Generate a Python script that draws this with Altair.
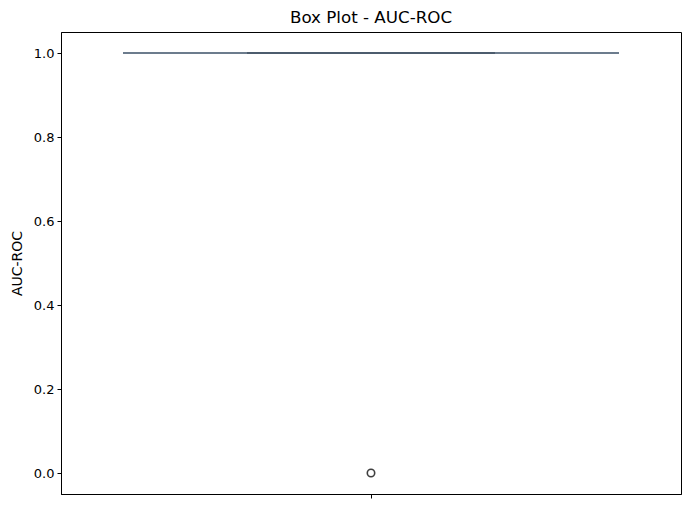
import altair as alt
import pandas as pd

metric_name = "AUC-ROC"
auc_roc_values = [1.0, 1.0, 1.0, 1.0, 1.0, 1.0, 1.0, 1.0, 1.0, 1.0, 0.0]
y_ticks = [0.0, 0.2, 0.4, 0.6, 0.8, 1.0]

df = pd.DataFrame({"group": ["all"] * len(auc_roc_values), "value": auc_roc_values})

line_color = "#555555"

chart = alt.Chart(df).mark_boxplot(
    extent=1.5,
    size=496,
    box={"color": line_color, "stroke": line_color, "strokeWidth": 1.5},
    median={"color": line_color, "strokeWidth": 1.5},
    rule={"color": line_color, "strokeWidth": 1.5},
    ticks={"color": "#3a3a3a", "size": 248, "thickness": 2},
    outliers={"color": "#3f3f3f", "size": 55, "strokeWidth": 1.6, "filled": False, "opacity": 1},
).encode(
    x=alt.X("group:N", axis=alt.Axis(labels=False, title=None, tickSize=4, tickColor="black",
                                     domainColor="black", ticks=True)),
    y=alt.Y("value:Q", title=metric_name,
            scale=alt.Scale(domain=[-0.05, 1.05], nice=False, zero=False),
            axis=alt.Axis(values=y_ticks, format=".1f", grid=False, tickSize=4,
                          tickColor="black", domainColor="black", labelPadding=3,
                          titlePadding=9)),
).properties(
    width=620,
    height=462,
    title=alt.TitleParams("Box Plot - AUC-ROC", fontSize=16.7, fontWeight="normal",
                          font="DejaVu Sans", offset=5, color="black"),
    autosize=alt.AutoSizeParams(type="none"),
    padding={"left": 61, "top": 32, "right": 10, "bottom": 15},
).configure_view(
    stroke="black", strokeWidth=1
).configure_axis(
    labelFont="DejaVu Sans", titleFont="DejaVu Sans", labelFontSize=13, titleFontSize=14,
    titleFontWeight="normal", labelColor="black", titleColor="black"
)

chart.save("out.html", embed_options={"renderer": "svg", "actions": False})
